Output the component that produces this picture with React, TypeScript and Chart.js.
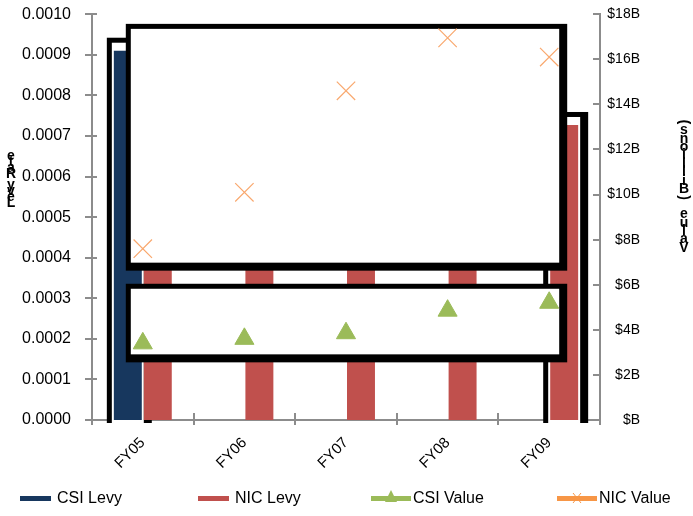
import React, { useEffect, useRef } from 'react';
import { Chart, registerables } from 'chart.js';

Chart.register(...registerables);

// ---------- data ----------
const categories = ['FY05', 'FY06', 'FY07', 'FY08', 'FY09'];
const csiLevy = [0.00091, 0, 0, 0, 0];
const nicLevy = [0.00072, 0.00073, 0.00074, 0.00073, 0.000727];
const csiValue = [3.4, 3.6, 3.85, 4.85, 5.2];
const nicValue = [7.6, 10.1, 14.6, 16.95, 16.1];
const levyAxisMax = 0.001;
const levyAxisStep = 0.0001;
const valueAxisMax = 18;
const valueAxisStep = 2;
const seriesNames = ['CSI Levy', 'NIC Levy', 'CSI Value', 'NIC Value'];
const leftTitle = 'Levy Rate';
const rightTitle = 'Value (Billions)';

// ---------- styles ----------
const BLUE = '#17375E';
const RED = '#C0504D';
const GREEN = '#9BBB59';
const ORANGE = '#F79646';
const ORANGE_LIGHT = '#F9A86E';
const AXIS = '#8C8C8C';
const FONT = 'Liberation Sans, Arial, sans-serif';

// highlight frames drawn around selected marks (dataset index, optional point index, padding l,t,r,b)
const FRAMES = [
  { dataset: 0, index: 0, pad: [7, 13, 10, 3], layer: 'under' },
  { dataset: 1, index: 4, pad: [7, 13, 10, 3], layer: 'under' },
  { dataset: 3, pad: [17, 14, 18, 22], layer: 'over' },
  { dataset: 2, pad: [17, 19, 18, 19], layer: 'over' },
];

function frameBounds(chart: any, f: any) {
  const meta = chart.getDatasetMeta(f.dataset);
  const [pl, pt, pr, pb] = f.pad;
  if (meta.type === 'bar') {
    const el: any = meta.data[f.index];
    return { l: el.x - el.width / 2 - pl, t: el.y - pt, r: el.x + el.width / 2 + pr, b: el.base + pb, open: true };
  }
  const pts: any[] = meta.data;
  const xs = pts.map((p) => p.x);
  const ys = pts.map((p) => p.y);
  return { l: Math.min(...xs) - pl, t: Math.min(...ys) - pt, r: Math.max(...xs) + pr, b: Math.max(...ys) + pb, open: false };
}

function drawFrame(ctx: CanvasRenderingContext2D, bx: any) {
  ctx.save();
  ctx.fillStyle = '#000';
  ctx.fillRect(bx.l, bx.t, bx.r - bx.l, bx.b - bx.t);
  ctx.fillStyle = '#fff';
  const innerBottom = bx.open ? bx.b : bx.b - 8;
  ctx.fillRect(bx.l + 5, bx.t + 5, bx.r - bx.l - 13, innerBottom - (bx.t + 5));
  ctx.restore();
}

const framePlugin = {
  id: 'frames',
  beforeDatasetsDraw(chart: any) {
    chart.$overFramesDone = false;
    FRAMES.filter((f) => f.layer === 'under').forEach((f) => drawFrame(chart.ctx, frameBounds(chart, f)));
  },
  beforeDatasetDraw(chart: any, args: any) {
    if (args.meta.type === 'line' && !chart.$overFramesDone) {
      chart.$overFramesDone = true;
      FRAMES.filter((f) => f.layer === 'over').forEach((f) => drawFrame(chart.ctx, frameBounds(chart, f)));
    }
  },
};

const tickPlugin = {
  id: 'tickMarks',
  afterDraw(chart: any) {
    const ctx = chart.ctx;
    const { x, y, y1 } = chart.scales;
    ctx.save();
    ctx.strokeStyle = AXIS;
    ctx.lineWidth = 2;
    ctx.beginPath();
    y.ticks.forEach((_: any, i: number) => {
      const py = Math.round(y.getPixelForTick(i));
      ctx.moveTo(y.right - 7, py);
      ctx.lineTo(y.right + 5, py);
    });
    y1.ticks.forEach((_: any, i: number) => {
      const py = Math.round(y1.getPixelForTick(i));
      ctx.moveTo(y1.left - 7, py);
      ctx.lineTo(y1.left + 1, py);
    });
    const n = x.ticks.length;
    const step = (x.right - x.left) / n;
    for (let i = 0; i <= n; i++) {
      const px = Math.round(x.left + i * step);
      ctx.moveTo(px, x.top - 7);
      ctx.lineTo(px, x.top + 5);
    }
    ctx.stroke();
    ctx.restore();
  },
};

function drawStacked(ctx: CanvasRenderingContext2D, text: string, cx: number, bottomY: number, pitch: number, font: string) {
  ctx.save();
  ctx.font = font;
  ctx.fillStyle = '#000';
  ctx.textAlign = 'center';
  ctx.textBaseline = 'middle';
  Array.from(text).forEach((ch, i) => {
    const cy = bottomY - i * pitch;
    if (ch === '(' || ch === ')') {
      ctx.save();
      ctx.translate(cx, cy);
      ctx.rotate(-Math.PI / 2);
      ctx.fillText(ch, 0, 0);
      ctx.restore();
    } else {
      ctx.fillText(ch, cx, cy);
    }
  });
  ctx.restore();
}

const titlePlugin = {
  id: 'stackedTitles',
  afterDraw(chart: any) {
    const ctx = chart.ctx;
    drawStacked(ctx, leftTitle, 11, 203, 5.8, `bold 14px ${FONT}`);
    drawStacked(ctx, rightTitle, 684, 248, 8.4, `bold 14px ${FONT}`);
  },
};

const LEGEND_X = [20, 198, 371, 557];
const LEGEND_Y = 498;

const legendPlugin = {
  id: 'bottomLegend',
  afterDraw(chart: any) {
    const ctx: CanvasRenderingContext2D = chart.ctx;
    ctx.save();
    ctx.font = `16px ${FONT}`;
    ctx.textBaseline = 'middle';
    ctx.textAlign = 'left';
    seriesNames.forEach((name, i) => {
      const x0 = LEGEND_X[i];
      const ds = chart.data.datasets[i];
      let textX;
      if (ds.type === 'bar') {
        ctx.fillStyle = ds.backgroundColor;
        ctx.fillRect(x0, LEGEND_Y - 2, 31, 5);
        textX = x0 + 37;
      } else {
        const col = i === 2 ? GREEN : ORANGE;
        ctx.fillStyle = col;
        ctx.fillRect(x0, LEGEND_Y - 2, 40, 5);
        const cx = x0 + 20;
        if (i === 2) {
          ctx.beginPath();
          ctx.moveTo(cx, LEGEND_Y - 8);
          ctx.lineTo(cx + 6, LEGEND_Y + 4);
          ctx.lineTo(cx - 6, LEGEND_Y + 4);
          ctx.closePath();
          ctx.fill();
        } else {
          ctx.strokeStyle = col;
          ctx.lineWidth = 1;
          ctx.beginPath();
          ctx.moveTo(cx - 4, LEGEND_Y - 5);
          ctx.lineTo(cx + 4, LEGEND_Y + 5);
          ctx.moveTo(cx + 4, LEGEND_Y - 5);
          ctx.lineTo(cx - 4, LEGEND_Y + 5);
          ctx.stroke();
        }
        textX = x0 + 42;
      }
      ctx.fillStyle = '#000';
      ctx.fillText(name, textX, LEGEND_Y + 1);
    });
    ctx.restore();
  },
};

export default function App() {
  const ref = useRef<HTMLCanvasElement | null>(null);

  useEffect(() => {
    if (!ref.current) return;
    const border = { display: true, color: AXIS, width: 2 };
    const chart = new Chart(ref.current, {
      type: 'bar',
      data: {
        labels: categories,
        datasets: [
          {
            type: 'bar',
            label: seriesNames[0],
            data: csiLevy,
            backgroundColor: BLUE,
            yAxisID: 'y',
            order: 2,
            categoryPercentage: 0.59,
            barPercentage: 0.933,
          },
          {
            type: 'bar',
            label: seriesNames[1],
            data: nicLevy,
            backgroundColor: RED,
            yAxisID: 'y',
            order: 2,
            categoryPercentage: 0.59,
            barPercentage: 0.933,
          },
          {
            type: 'line',
            label: seriesNames[2],
            data: csiValue,
            yAxisID: 'y1',
            showLine: false,
            pointStyle: 'triangle',
            pointRadius: 11,
            pointBackgroundColor: GREEN,
            pointBorderColor: GREEN,
            pointBorderWidth: 1,
            order: 1,
          },
          {
            type: 'line',
            label: seriesNames[3],
            data: nicValue,
            yAxisID: 'y1',
            showLine: false,
            pointStyle: 'crossRot',
            pointRadius: 13,
            pointBackgroundColor: ORANGE_LIGHT,
            pointBorderColor: ORANGE_LIGHT,
            pointBorderWidth: 1.2,
            order: 1,
          },
        ] as any,
      },
      options: {
        responsive: false,
        animation: false,
        devicePixelRatio: 1,
        layout: { padding: { top: 14, left: 0, right: 53, bottom: 0 } },
        plugins: { legend: { display: false }, tooltip: { enabled: false } },
        scales: {
          x: {
            z: 1,
            grid: { display: false },
            border,
            ticks: {
              color: '#000',
              font: { family: FONT, size: 15 },
              minRotation: 45,
              maxRotation: 45,
              padding: 6,
            },
            afterFit: (s: any) => {
              s.height = 96;
            },
          },
          y: {
            position: 'left',
            min: 0,
            max: levyAxisMax,
            grid: { display: false },
            border,
            ticks: {
              stepSize: levyAxisStep,
              color: '#000',
              font: { family: FONT, size: 16 },
              padding: 13,
              callback: (v: any) => Number(v).toFixed(4),
            },
            afterFit: (s: any) => {
              s.width = 92;
              s.paddingTop = 0;
              s.paddingBottom = 0;
            },
          },
          y1: {
            position: 'right',
            min: 0,
            max: valueAxisMax,
            grid: { display: false },
            border,
            ticks: {
              stepSize: valueAxisStep,
              color: '#000',
              font: { family: FONT, size: 14 },
              padding: 10,
              crossAlign: 'far',
              callback: (v: any) => (Number(v) === 0 ? '$B' : `$${v}B`),
            },
            afterFit: (s: any) => {
              s.width = 40;
              s.paddingTop = 0;
              s.paddingBottom = 0;
            },
          },
        },
      } as any,
      plugins: [framePlugin, tickPlugin, titlePlugin, legendPlugin],
    });
    return () => chart.destroy();
  }, []);

  return (
    <div style={{ position: 'absolute', left: 0, top: 0, width: 693, height: 516, background: '#fff' }}>
      <canvas ref={ref} width={693} height={516} style={{ width: 693, height: 516, display: 'block' }} />
    </div>
  );
}
